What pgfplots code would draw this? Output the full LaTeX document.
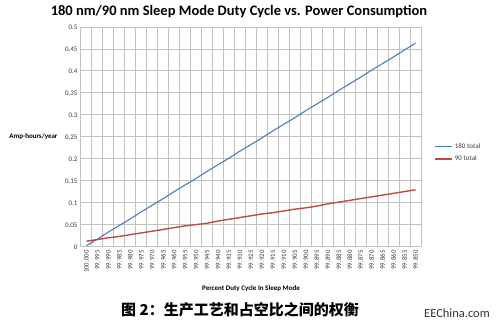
\documentclass[border=0pt]{standalone}
\usepackage{pgfplots}
\pgfplotsset{compat=1.18}
\usepackage{pgfplotstable}
\usepackage{fontspec}
\setmainfont{Carlito}
\newfontfamily\cjk{Noto Sans CJK SC}
\definecolor{xlblue}{HTML}{4A7EBB}
\definecolor{xlred}{HTML}{BE4B48}
\definecolor{gridc}{HTML}{C2C2C2}
\definecolor{txt}{HTML}{3A3A3A}
\pgfplotstableread{
i b r
0 0.003 0.013
1 0.018 0.017
2 0.034 0.021
3 0.049 0.024
4 0.064 0.028
5 0.080 0.032
6 0.095 0.036
7 0.110 0.040
8 0.126 0.044
9 0.141 0.048
10 0.156 0.051
11 0.172 0.054
12 0.187 0.059
13 0.202 0.063
14 0.218 0.067
15 0.233 0.071
16 0.248 0.075
17 0.264 0.078
18 0.279 0.082
19 0.294 0.086
20 0.310 0.089
21 0.325 0.093
22 0.340 0.098
23 0.356 0.102
24 0.371 0.106
25 0.386 0.110
26 0.402 0.114
27 0.417 0.118
28 0.432 0.122
29 0.448 0.126
30 0.463 0.130
}\datatab
\begin{document}
\begin{tikzpicture}
\useasboundingbox (0,0) rectangle (500pt,331pt);
\node[font=\bfseries\fontsize{14.5}{16}\selectfont, text=black] at (239pt,319pt) {180 nm/90 nm Sleep Mode Duty Cycle vs. Power Consumption};
\begin{axis}[
  at={(81pt,84pt)}, anchor=south west,
  scale only axis, width=340pt, height=220pt,
  xmin=-0.5, xmax=30.5, ymin=0, ymax=0.5,
  xtick={0,...,30},
  xticklabels={100.000,99.995,99.990,99.985,99.980,99.975,99.970,99.965,99.960,99.955,99.950,99.945,99.940,99.935,99.930,99.925,99.920,99.915,99.910,99.905,99.900,99.895,99.890,99.885,99.880,99.875,99.870,99.865,99.860,99.855,99.850},
  x tick label style={rotate=90, anchor=east, font=\fontsize{6.8}{7}\selectfont, text=txt},
  minor xtick={-0.5,0.5,...,30.5},
  ytick={0,0.05,...,0.51},
  yticklabels={0,0.05,0.1,0.15,0.2,0.25,0.3,0.35,0.4,0.45,0.5},
  xminorgrids=true,
  ymajorgrids=true,
  grid style={draw=gridc, line width=1pt},
  minor grid style={draw=gridc, line width=1pt},
  major grid style={draw=gridc, line width=1pt},
  y tick label style={font=\fontsize{7}{8}\selectfont, text=txt},
  major tick length=0pt, minor tick length=0pt,
  axis line style={draw=gridc, line width=1pt},
  ylabel={Amp-hours/year},
  ylabel style={rotate=-90, font=\bfseries\fontsize{7}{8}\selectfont, at={(axis description cs:0,0.5)}, anchor=east, xshift=-20pt},
  xlabel={Percent Duty Cycle In Sleep Mode},
  xlabel style={font=\bfseries\fontsize{7}{8}\selectfont, at={(axis description cs:0.5,0)}, anchor=north, yshift=-35pt},
  legend style={at={(1.03,0.49)}, anchor=north west, draw=none, fill=none, font=\fontsize{7}{8}\selectfont, text=txt, row sep=2pt},
  legend cell align=left,
  clip=false,
]
\addplot[xlblue, line width=1.1pt] table[x=i, y=b] {\datatab};
\addlegendentry{180 total}
\addplot[xlred, line width=1.4pt] table[x=i, y=r] {\datatab};
\addlegendentry{90 total}
\end{axis}
\node[font=\cjk\bfseries\fontsize{15}{17}\selectfont] at (240pt,21pt) {图 2：生产工艺和占空比之间的权衡};
\node[font=\fontsize{12.5}{14}\selectfont, text=black!80] at (457pt,18pt) {EEChina.com};
\end{tikzpicture}
\end{document}
